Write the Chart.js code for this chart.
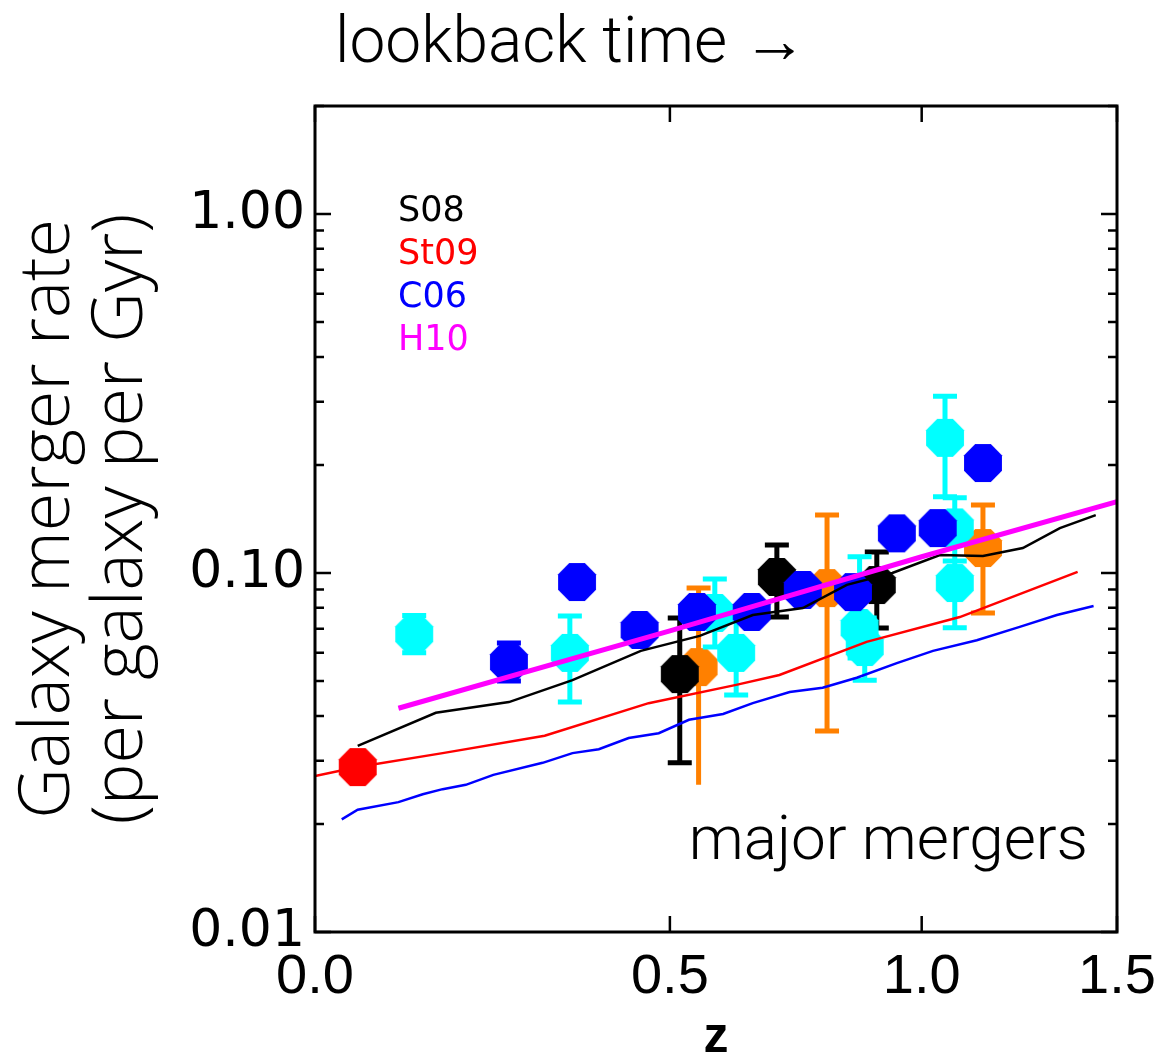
<!DOCTYPE html>
<html>
<head>
<meta charset="utf-8">
<script src="https://cdn.jsdelivr.net/npm/chart.js@4.4.0/dist/chart.umd.min.js"></script>
<style>
html, body { margin: 0; padding: 0; background: #fff; }
#wrap { width: 1154px; height: 1058px; }
</style>
</head>
<body>
<div id="wrap"><canvas id="chart" width="1154" height="1058"></canvas></div>
<script>
/* ============= Data: ============= */
var xTicks = [0.0, 0.5, 1.0, 1.5];
var yTicks = [0.01, 0.1, 1.0];
var legendNames = ['S08', 'St09', 'C06', 'H10'];
var legendColors = ['#000000', '#ff0000', '#0000ff', '#ff00ff'];

// model curves
var s08Z = [0.05, 0.148, 0.248, 0.342, 0.451, 0.552, 0.649, 0.746, 0.836, 0.934, 1.042, 1.145, 1.245, 1.342, 1.44];
var s08Rate = [0.0330, 0.0408, 0.0437, 0.0503, 0.0607, 0.0668, 0.0764, 0.0799, 0.0927, 0.100, 0.1122, 0.1115, 0.1174, 0.1334, 0.145];

var st09Z = [0.0, 0.05, 0.157, 0.30, 0.464, 0.618, 0.70, 0.878, 1.089, 1.39];
var st09Rate = [0.0272, 0.0288, 0.0315, 0.0352, 0.0434, 0.0488, 0.052, 0.0643, 0.0754, 0.1007];

var c06Z = [0.031, 0.05, 0.10, 0.131, 0.157, 0.188, 0.226, 0.297, 0.342, 0.383, 0.431, 0.481, 0.533, 0.594, 0.649, 0.72, 0.786, 0.857, 0.944, 1.026, 1.13, 1.237, 1.334, 1.434];
var c06Rate = [0.0206, 0.0219, 0.0230, 0.0242, 0.0250, 0.0257, 0.0274, 0.0296, 0.0315, 0.0323, 0.0347, 0.0358, 0.0390, 0.0405, 0.0434, 0.0466, 0.0479, 0.0511, 0.0561, 0.0607, 0.0650, 0.0708, 0.0764, 0.0809];

var h10Z = [0.1, 0.5, 1.0, 1.5];
var h10Rate = [0.042, 0.069, 0.111, 0.158];

// observed points
var blueZ = [0.248, 0.349, 0.449, 0.547, 0.647, 0.746, 0.849, 0.944, 1.037, 1.145];
var blueRate = [0.0565, 0.0944, 0.0694, 0.0779, 0.0779, 0.0897, 0.0885, 0.129, 0.1334, 0.2025];
var blueLo = [0.050, null, null, null, null, null, null, null, null, null];
var blueHi = [0.0638, null, null, null, null, null, null, null, null, null];

var cyanZ = [0.12, 0.338, 0.579, 0.618, 0.863, 0.874, 1.054, 1.077, 1.077];
var cyanRate = [0.0676, 0.0599, 0.0774, 0.0599, 0.0703, 0.0622, 0.238, 0.134, 0.0938];
var cyanLo = [0.0600, 0.0437, 0.0622, 0.0457, 0.058, 0.0503, 0.163, 0.108, 0.0704];
var cyanHi = [0.0762, 0.0759, 0.0962, 0.078, 0.111, 0.075, 0.311, 0.162, 0.12];

var blackZ = [0.517, 0.695, 0.90];
var blackRate = [0.0523, 0.0975, 0.0926];
var blackLo = [0.0296, 0.0754, 0.0703];
var blackHi = [0.0749, 0.1197, 0.1144];

var orangeZ = [0.55, 0.795, 1.145];
var orangeRate = [0.0547, 0.0908, 0.1174];
var orangeLo = [0.0257, 0.0363, 0.0774];
var orangeHi = [0.0908, 0.145, 0.1546];
var orangeLoCap = [false, true, true];

var redZ = [0.05];
var redRate = [0.0288];

/* ============= Functions: ============= */
// x axis is log(1+z)
function toPoints(zs, rates) {
	var pts = [];
	for (var i = 0; i < zs.length; i++) {
		pts.push({x: 1 + zs[i], y: rates[i]});
	}
	return pts;
}

function octagon(color) {
	var r = 20.5;
	var c = document.createElement('canvas');
	c.width = 44;
	c.height = 44;
	var g = c.getContext('2d');
	g.fillStyle = color;
	g.beginPath();
	for (var i = 0; i < 8; i++) {
		var a = Math.PI / 8 + i * Math.PI / 4;
		g.lineTo(c.width / 2 + r * Math.cos(a), c.height / 2 + r * Math.sin(a));
	}
	g.closePath();
	g.fill();
	return c;
}

function isDecade(v) {
	var l = Math.log10(v);
	return Math.abs(l - Math.round(l)) < 1e-6;
}

function lineSet(zs, rates, color, width) {
	return {
		data: toPoints(zs, rates),
		showLine: true,
		borderColor: color,
		borderWidth: width,
		pointRadius: 0,
		tension: 0
	};
}

function markerSet(zs, rates, color, lo, hi) {
	return {
		data: toPoints(zs, rates),
		showLine: false,
		backgroundColor: color,
		borderWidth: 0,
		pointStyle: octagon(color),
		pointRadius: 20,
		errLo: lo,
		errHi: hi
	};
}

var errorBars = {
	id: 'errorBars',
	beforeDatasetDraw: function(chart, args) {
		var ds = chart.data.datasets[args.index];
		if (!ds.errLo) return;
		var ctx = chart.ctx;
		var xs = chart.scales.x;
		var ys = chart.scales.y;
		ctx.save();
		ctx.strokeStyle = ds.backgroundColor;
		ctx.lineWidth = 5;
		ctx.beginPath();
		for (var i = 0; i < ds.data.length; i++) {
			if (ds.errLo[i] == null) continue;
			var px = xs.getPixelForValue(ds.data[i].x);
			var lo = ys.getPixelForValue(ds.errLo[i]);
			var hi = ys.getPixelForValue(ds.errHi[i]);
			ctx.moveTo(px, lo); ctx.lineTo(px, hi);
			if (!ds.loCap || ds.loCap[i]) {
				ctx.moveTo(px - 12, lo); ctx.lineTo(px + 12, lo);
			}
			ctx.moveTo(px - 12, hi); ctx.lineTo(px + 12, hi);
		}
		ctx.stroke();
		ctx.restore();
	}
};

var frame = {
	id: 'frame',
	afterDraw: function(chart) {
		var ctx = chart.ctx;
		var a = chart.chartArea;
		var xs = chart.scales.x;
		var ys = chart.scales.y;
		ctx.save();
		ctx.strokeStyle = '#000';
		ctx.lineWidth = 3;
		ctx.strokeRect(a.left, a.top, a.right - a.left, a.bottom - a.top);
		ctx.lineWidth = 2.5;
		ctx.beginPath();
		ys.ticks.forEach(function(t) {
			var py = ys.getPixelForValue(t.value);
			var len = isDecade(t.value) ? 16 : 9;
			ctx.moveTo(a.left, py); ctx.lineTo(a.left + len, py);
			ctx.moveTo(a.right, py); ctx.lineTo(a.right - len, py);
		});
		xs.ticks.forEach(function(t) {
			var px = xs.getPixelForValue(t.value);
			ctx.moveTo(px, a.bottom); ctx.lineTo(px, a.bottom - 16);
			ctx.moveTo(px, a.top); ctx.lineTo(px, a.top + 16);
		});
		ctx.stroke();

		// labels
		ctx.fillStyle = '#000';
		ctx.textBaseline = 'alphabetic';
		ctx.textAlign = 'left';
		ctx.font = '300 64px Roboto, "Liberation Sans", sans-serif';
		ctx.fillText('lookback time \u2192', 335, 62);

		ctx.font = '300 62px Roboto, "Liberation Sans", sans-serif';
		ctx.textAlign = 'right';
		ctx.fillText('major mergers', 1088, 859);

		ctx.textAlign = 'left';
		ctx.textBaseline = 'middle';
		ctx.font = '35px "DejaVu Sans", sans-serif';
		for (var i = 0; i < legendNames.length; i++) {
			ctx.fillStyle = legendColors[i];
			ctx.fillText(legendNames[i], 398, 212 + i * 43);
		}
		ctx.restore();
	}
};

/* ============= Main(): ============= */
var orangeSet = markerSet(orangeZ, orangeRate, '#ff8000', orangeLo, orangeHi);
orangeSet.loCap = orangeLoCap;

var datasets = [
	lineSet(h10Z, h10Rate, '#ff00ff', 5),
	lineSet(s08Z, s08Rate, '#000000', 2.5),
	lineSet(st09Z, st09Rate, '#ff0000', 2.5),
	lineSet(c06Z, c06Rate, '#0000ff', 2.5),
	markerSet(blueZ, blueRate, '#0000ff', blueLo, blueHi),
	markerSet(cyanZ, cyanRate, '#00ffff', cyanLo, cyanHi),
	markerSet(blackZ, blackRate, '#000000', blackLo, blackHi),
	orangeSet,
	markerSet(redZ, redRate, '#ff0000', null, null)
];

var ctx = document.getElementById('chart').getContext('2d');
var myChart = new Chart(ctx, {
	type: 'scatter',
	data: {datasets: datasets},
	plugins: [errorBars, frame],
	options: {
		responsive: false,
		devicePixelRatio: 1,
		animation: false,
		layout: {padding: {top: 106, right: 37, left: 0, bottom: 0}},
		plugins: {legend: {display: false}, tooltip: {enabled: false}},
		scales: {
			x: {
				type: 'logarithmic',
				min: 1,
				max: 2.5,
				grid: {display: false, drawTicks: false},
				border: {display: false},
				afterBuildTicks: function(s) {
					s.ticks = xTicks.map(function(z) { return {value: 1 + z}; });
				},
				afterFit: function(s) {
					s.height = 126;
					s.paddingLeft = 0;
					s.paddingRight = 0;
				},
				ticks: {
					autoSkip: false,
					maxRotation: 0,
					padding: 12,
					color: '#000',
					font: {family: '"Liberation Sans Narrow", "Liberation Sans", sans-serif', size: 56},
					callback: function(v) { return (v - 1).toFixed(1); }
				},
				title: {
					display: true,
					text: 'z',
					color: '#000',
					padding: 0,
					font: {family: '"Liberation Sans", sans-serif', size: 50, weight: 'bold', lineHeight: 0.8}
				}
			},
			y: {
				type: 'logarithmic',
				min: 0.01,
				max: 2.0,
				grid: {display: false, drawTicks: false},
				border: {display: false},
				afterBuildTicks: function(s) {
					var t = [];
					yTicks.forEach(function(d) {
						for (var k = 1; k <= 9; k++) {
							if (k * d <= 2.0001) t.push({value: k * d});
						}
					});
					s.ticks = t;
				},
				afterFit: function(s) {
					s.width = 315;
					s.paddingTop = 0;
					s.paddingBottom = 0;
				},
				ticks: {
					autoSkip: false,
					padding: 10,
					color: '#000',
					font: {family: '"DejaVu Sans", sans-serif', size: 52},
					callback: function(v) { return isDecade(v) ? v.toFixed(2) : ''; }
				},
				title: {
					display: true,
					text: ['Galaxy merger rate', '(per galaxy per Gyr)'],
					color: '#000',
					padding: {top: 12, bottom: 0},
					font: {family: '"Open Sans", Roboto, sans-serif', size: 70, weight: 300, lineHeight: 1.05}
				}
			}
		}
	}
});
</script>
</body>
</html>
